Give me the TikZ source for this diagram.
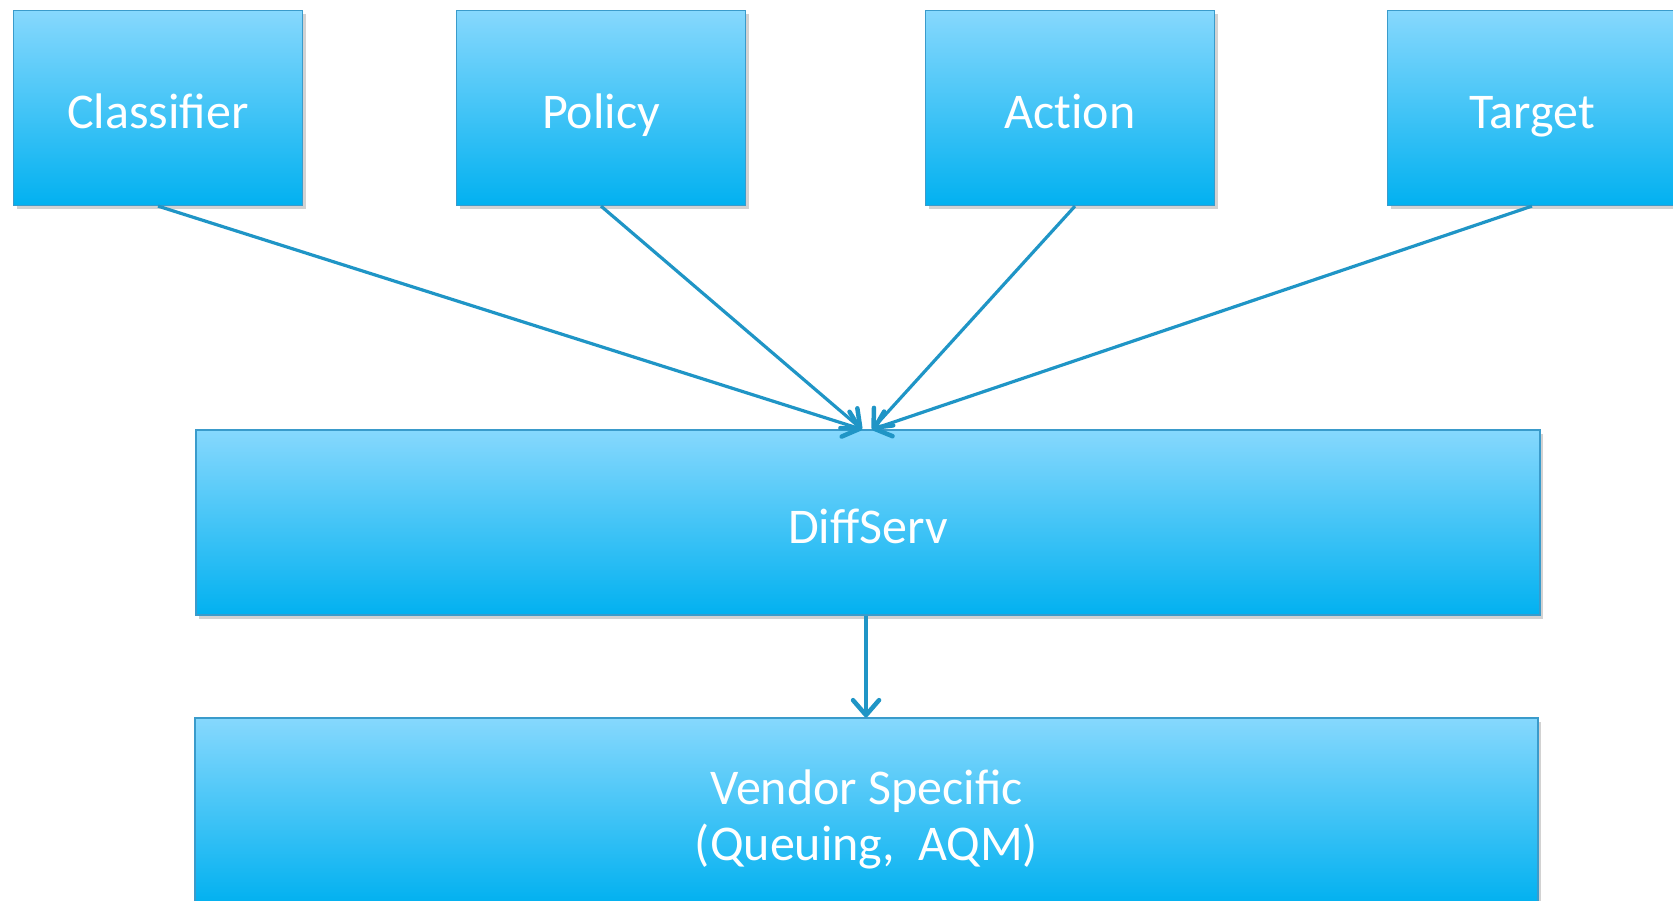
\documentclass[tikz,border=0pt]{standalone}
\usepackage{fontspec}
\setmainfont{Carlito}
\newfontfamily\noligfont{Carlito}[Ligatures=NoCommon]
\usetikzlibrary{arrows.meta,shadows}
\definecolor{boxtop}{HTML}{86D8FD}
\definecolor{boxbot}{HTML}{02B1F0}
\definecolor{boxedge}{HTML}{3A9BCB}
\definecolor{arrc}{HTML}{1F95C6}
\tikzset{
  blockbase/.style={rectangle, draw=boxedge, line width=1.2pt, top color=boxtop, bottom color=boxbot,
    text=white, font=\fontsize{50}{56}\selectfont, align=center, inner sep=0pt,
    drop shadow={shadow xshift=3pt, shadow yshift=-4pt, opacity=0.25, fill=black!70}},
  blockbox/.style={blockbase, text height=42pt, text depth=0pt},
  arr/.style={draw=arrc, line width=3.2pt, -{Straight Barb[length=15pt,width=26pt,line width=4.5pt,round]}}
}
\begin{document}
\begin{tikzpicture}[x=1pt,y=-1pt]
\useasboundingbox (0,0) rectangle (1673,901);
\clip (0,0) rectangle (1673,901);
\node[blockbox, minimum width=289pt, minimum height=195pt] (cls) at (158,108) {Classifier};
\node[blockbox, minimum width=289pt, minimum height=195pt] (pol) at (601,108) {Policy};
\node[blockbox, minimum width=289pt, minimum height=195pt] (act) at (1070,108) {{\noligfont Action}};
\node[blockbox, minimum width=289pt, minimum height=195pt] (tgt) at (1532,108) {Target};
\node[blockbox, minimum width=1344pt, minimum height=185pt] (dif) at (868,522.5) {DiffServ};
\node[blockbase, minimum width=1343pt, minimum height=185pt] (ven) at (866.5,810.5) {\rule{0pt}{52pt}Vendor Specific\\(Queuing,~~AQM)};
\coordinate (inL) at ([xshift=-6pt]dif.north);
\coordinate (inR) at ([xshift=4pt]dif.north);
\draw[arr] (cls.south) -- (inL);
\draw[arr] (pol.south) -- (inL);
\draw[arr] ([xshift=5pt]act.south) -- (inR);
\draw[arr] (tgt.south) -- (inR);
\draw[arr] ([xshift=-2pt]dif.south) -- ([xshift=-0.5pt]ven.north);
\end{tikzpicture}
\end{document}
